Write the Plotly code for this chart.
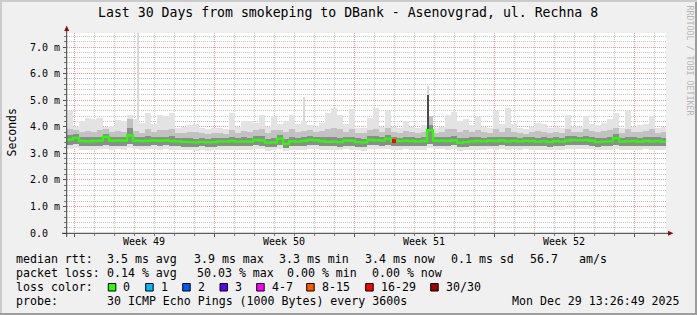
import plotly.graph_objects as go

# ---------------- data ----------------
title_text = "Last 30 Days from smokeping to DBank - Asenovgrad, ul. Rechna 8"
y_tick_values = [0, 1, 2, 3, 4, 5, 6, 7]
y_tick_labels = ["0.0", "1.0 m", "2.0 m", "3.0 m", "4.0 m", "5.0 m", "6.0 m", "7.0 m"]
week_labels = ["Week 49", "Week 50", "Week 51", "Week 52"]

bin_days = 0.3  # each value covers 7.2 h

median_ms = [
    3.52, 3.58, 3.46, 3.45, 3.46, 3.47, 3.62, 3.47, 3.48, 3.47,
    3.67, 3.47, 3.46, 3.47, 3.48, 3.47, 3.48, 3.46, 3.45, 3.43,
    3.42, 3.41, 3.43, 3.41, 3.42,
    3.45, 3.45, 3.46, 3.44, 3.45, 3.44, 3.50, 3.48, 3.40, 3.41,
    3.55, 3.36, 3.45, 3.44, 3.46, 3.50, 3.49, 3.46, 3.43, 3.44,
    3.42, 3.48, 3.47, 3.42, 3.41,
    3.50, 3.49, 3.48, 3.55, 3.46, 3.46, 3.47, 3.46, 3.45, 3.46,
    3.87, 3.47, 3.47, 3.46, 3.48, 3.40, 3.42, 3.45, 3.46, 3.45,
    3.47, 3.46, 3.48, 3.45, 3.47,
    3.45, 3.47, 3.46, 3.44, 3.45, 3.42, 3.46, 3.44, 3.48, 3.50,
    3.49, 3.50, 3.47, 3.42, 3.44, 3.45, 3.57, 3.44, 3.45, 3.46,
    3.44, 3.47, 3.45, 3.46, 3.44,
]

smoke_max = [
    4.58, 4.00, 4.20, 4.33, 4.28, 4.33, 4.00, 4.02, 4.25, 4.20,
    4.45, 4.30, 4.15, 4.50, 4.12, 4.45, 4.40, 4.50, 3.95, 3.98,
    4.08, 4.12, 3.95, 3.92, 3.95,
    3.95, 3.90, 4.50, 4.00, 4.20, 4.20, 4.15, 4.45, 4.00, 4.40,
    4.10, 4.20, 4.45, 4.10, 4.20, 4.05, 4.00, 4.15, 4.50, 4.70,
    4.45, 4.10, 4.65, 3.95, 3.95,
    4.33, 4.70, 4.00, 4.58, 4.00, 3.95, 4.20, 4.00, 3.95, 4.05,
    4.40, 3.95, 4.00, 4.45, 4.55, 4.20, 4.30, 4.05, 4.35, 4.00,
    3.95, 4.60, 4.10, 4.70, 4.10,
    3.95, 3.90, 4.00, 4.15, 4.10, 3.95, 4.00, 3.95, 4.45, 4.00,
    4.00, 4.40, 4.10, 4.05, 4.15, 4.30, 4.50, 3.95, 4.60, 4.00,
    4.05, 4.10, 4.40, 3.95, 4.00,
]

smoke_up = [
    3.90, 3.88, 3.80, 3.85, 3.82, 3.86, 3.92, 3.80, 3.84, 3.82,
    4.30, 3.84, 3.78, 3.90, 3.80, 3.88, 3.86, 3.90, 3.75, 3.78,
    3.80, 3.82, 3.76, 3.74, 3.76,
    3.76, 3.74, 3.88, 3.78, 3.84, 3.82, 3.86, 3.90, 3.76, 3.86,
    3.88, 3.80, 3.90, 3.82, 3.84, 3.86, 3.80, 3.84, 3.90, 3.95,
    3.90, 3.82, 3.92, 3.76, 3.75,
    3.88, 3.92, 3.80, 3.95, 3.82, 3.76, 3.84, 3.80, 3.76, 3.80,
    4.40, 3.78, 3.80, 3.90, 3.92, 3.82, 3.86, 3.80, 3.88, 3.80,
    3.78, 3.92, 3.82, 3.95, 3.82,
    3.76, 3.74, 3.80, 3.84, 3.82, 3.76, 3.80, 3.78, 3.90, 3.82,
    3.82, 3.90, 3.84, 3.80, 3.84, 3.86, 3.95, 3.78, 3.92, 3.80,
    3.80, 3.84, 3.90, 3.78, 3.80,
]

smoke_hi = [
    3.68, 3.72, 3.60, 3.62, 3.60, 3.62, 3.74, 3.60, 3.62, 3.60,
    3.95, 3.62, 3.60, 3.64, 3.60, 3.62, 3.62, 3.64, 3.58, 3.56,
    3.56, 3.55, 3.57, 3.55, 3.56,
    3.58, 3.57, 3.62, 3.58, 3.60, 3.58, 3.64, 3.64, 3.55, 3.58,
    3.68, 3.55, 3.62, 3.58, 3.60, 3.64, 3.62, 3.60, 3.60, 3.62,
    3.58, 3.62, 3.62, 3.56, 3.55,
    3.64, 3.64, 3.62, 3.68, 3.60, 3.58, 3.62, 3.60, 3.58, 3.60,
    4.05, 3.60, 3.60, 3.62, 3.64, 3.56, 3.58, 3.60, 3.62, 3.58,
    3.60, 3.62, 3.62, 3.62, 3.60,
    3.58, 3.60, 3.60, 3.58, 3.60, 3.56, 3.60, 3.58, 3.64, 3.64,
    3.62, 3.66, 3.62, 3.56, 3.58, 3.60, 3.72, 3.58, 3.62, 3.60,
    3.58, 3.62, 3.62, 3.60, 3.58,
]

smoke_lo = [
    3.32, 3.34, 3.28, 3.27, 3.28, 3.29, 3.33, 3.28, 3.29, 3.28,
    3.36, 3.29, 3.28, 3.29, 3.30, 3.28, 3.30, 3.28, 3.27, 3.25,
    3.25, 3.24, 3.26, 3.24, 3.25,
    3.27, 3.27, 3.28, 3.26, 3.27, 3.26, 3.30, 3.29, 3.23, 3.24,
    3.32, 3.20, 3.27, 3.26, 3.28, 3.30, 3.30, 3.28, 3.26, 3.27,
    3.25, 3.29, 3.28, 3.25, 3.24,
    3.30, 3.30, 3.29, 3.33, 3.28, 3.28, 3.29, 3.28, 3.27, 3.28,
    3.34, 3.29, 3.29, 3.28, 3.30, 3.23, 3.25, 3.27, 3.28, 3.27,
    3.29, 3.28, 3.30, 3.27, 3.29,
    3.27, 3.29, 3.28, 3.26, 3.27, 3.25, 3.28, 3.26, 3.30, 3.31,
    3.30, 3.31, 3.29, 3.25, 3.26, 3.27, 3.33, 3.26, 3.27, 3.28,
    3.26, 3.29, 3.27, 3.28, 3.26,
]

smoke_min = [
    3.18, 3.20, 3.14, 3.13, 3.14, 3.15, 3.18, 3.14, 3.15, 3.14,
    3.20, 3.15, 3.14, 3.15, 3.16, 3.14, 3.16, 3.14, 3.13, 3.12,
    3.11, 3.10, 3.12, 3.10, 3.11,
    3.13, 3.13, 3.14, 3.12, 3.13, 3.12, 3.16, 3.15, 3.10, 3.11,
    3.17, 3.08, 3.13, 3.12, 3.14, 3.16, 3.16, 3.14, 3.12, 3.13,
    3.11, 3.15, 3.14, 3.11, 3.10,
    3.16, 3.16, 3.15, 3.18, 3.14, 3.14, 3.15, 3.14, 3.13, 3.14,
    3.20, 3.15, 3.15, 3.14, 3.16, 3.10, 3.12, 3.13, 3.14, 3.13,
    3.15, 3.14, 3.16, 3.13, 3.15,
    3.13, 3.15, 3.14, 3.12, 3.13, 3.11, 3.14, 3.12, 3.16, 3.17,
    3.16, 3.17, 3.15, 3.11, 3.12, 3.13, 3.18, 3.12, 3.13, 3.14,
    3.12, 3.15, 3.13, 3.14, 3.12,
]

loss_count = [0] * 54 + [16] + [0] * 45

# isolated outlier pings (day offset, low, high, shade)
outlier_day = [3.53, 11.85, 18.03, 18.03]
outlier_lo = [4.30, 4.20, 4.40, 3.90]
outlier_hi = [9.00, 5.13, 5.55, 5.20]
outlier_shade = ["light", "light", "light", "dark"]

legend_rtt = [("median rtt:", 16), ("3.5 ms avg", 107.3), ("3.9 ms max", 193.7),
              ("3.3 ms min", 279.3), ("3.4 ms now", 365.0), ("0.1 ms sd", 451.0),
              ("56.7", 530.0), ("am/s", 579.3)]
legend_loss = [("packet loss:", 16), ("0.14 % avg", 107.3), ("50.03 % max", 196.7),
               ("0.00 % min", 286.7), ("0.00 % now", 372.3)]
loss_labels = ["0", "1", "2", "3", "4-7", "8-15", "16-29", "30/30"]
loss_thresholds = [0, 1, 2, 3, 4, 8, 16, 30]
probe_text = "30 ICMP Echo Pings (1000 Bytes) every 3600s"
date_text = "Mon Dec 29 13:26:49 2025"

# ---------------- style ----------------
W, H = 697, 315
ML, MR, MT, MB = 67, 31, 33, 82
PW, PH = W - ML - MR, H - MT - MB
X_RANGE = [0, 29.95]
Y_RANGE = [0, 7.527]
MONO = "DejaVu Sans Mono"
loss_colors = ["#26ff00", "#00b8ff", "#0059ff", "#5e00ff", "#ff00ff", "#ff5500", "#ff0000", "#a10000"]
box_left = [108.3, 145.7, 182.7, 220.0, 256.7, 306.7, 365.7, 430.7]


def px(xp):
    return (xp - ML) / PW


def py(yp):
    return (H - MB - yp) / PH


fig = go.Figure()

xs = [(i + 0.5) * bin_days for i in range(len(median_ms))]


def band(lo, hi, color, x=None, width=bin_days):
    fig.add_trace(go.Bar(
        x=x if x is not None else xs,
        y=[h - l for l, h in zip(lo, hi)], base=lo, width=width,
        marker=dict(color=color, line=dict(width=0)),
        hoverinfo="skip", showlegend=False))


band(smoke_min, smoke_max, "#e3e3e3")
band(smoke_lo, smoke_up, "#c2c2c2")
band(smoke_lo, smoke_hi, "#8c8c8c")

shade_color = {"light": "#d9d9d9", "dark": "#4a4a4a"}
for shade in ["light", "dark"]:
    idx = [k for k, s in enumerate(outlier_shade) if s == shade]
    band([outlier_lo[k] for k in idx], [outlier_hi[k] for k in idx], shade_color[shade],
         x=[outlier_day[k] for k in idx], width=0.11)

# median line (step)
x_edges = [i * bin_days for i in range(len(median_ms) + 1)]
fig.add_trace(go.Scatter(x=x_edges, y=median_ms + [median_ms[-1]], mode="lines",
                         line=dict(color=loss_colors[0], width=2.4, shape="hv"),
                         hoverinfo="skip", showlegend=False))


def loss_col(n):
    c = loss_colors[0]
    for t, col in zip(loss_thresholds, loss_colors):
        if n >= t:
            c = col
    return c


lx = [xs[i] for i, n in enumerate(loss_count) if n > 0]
ly = [median_ms[i] for i, n in enumerate(loss_count) if n > 0]
lc = [loss_col(n) for n in loss_count if n > 0]
fig.add_trace(go.Scatter(x=lx, y=ly, mode="markers",
                         marker=dict(symbol="square", size=4, color=lc, line=dict(width=0)),
                         hoverinfo="skip", showlegend=False))

major_x = [0.365 + 7 * k for k in range(5)]
minor_x = [0.365 + k for k in range(30)]
minor_y = [round(0.2 * k, 2) for k in range(38)]

GRID_MINOR = "#c6c6c6"
GRID_MAJOR = "#e79a9a"

fig.update_layout(
    width=W, height=H,
    margin=dict(l=ML, r=MR, t=MT, b=MB, pad=0),
    paper_bgcolor="#f0f0f0", plot_bgcolor="#ffffff",
    barmode="overlay", bargap=0, showlegend=False,
    xaxis=dict(range=X_RANGE, tickmode="array", tickvals=major_x, showticklabels=False,
               showgrid=True, gridcolor=GRID_MAJOR, griddash="1px,1px", gridwidth=1,
               ticks="outside", ticklen=3, tickcolor="#555555", tickwidth=1,
               zeroline=False, showline=False, fixedrange=True,
               minor=dict(tickmode="array", tickvals=minor_x, showgrid=True,
                          gridcolor=GRID_MINOR, griddash="1px,1px", gridwidth=1,
                          ticks="outside", ticklen=2, tickcolor="#777777")),
    yaxis=dict(range=Y_RANGE, tickmode="array", tickvals=y_tick_values, showticklabels=False,
               showgrid=True, gridcolor=GRID_MAJOR, griddash="1px,1px", gridwidth=1,
               ticks="outside", ticklen=3, tickcolor="#555555", tickwidth=1,
               zeroline=False, showline=False, fixedrange=True,
               minor=dict(tickmode="array", tickvals=minor_y, showgrid=True,
                          gridcolor=GRID_MINOR, griddash="1px,1px", gridwidth=1,
                          ticks="outside", ticklen=2, tickcolor="#777777")),
)

shapes = []
# axes
shapes.append(dict(type="line", xref="paper", yref="paper", x0=px(66.7), x1=px(66.7),
                   y0=py(237), y1=py(30), line=dict(color="#3a3a3a", width=1)))
shapes.append(dict(type="line", xref="paper", yref="paper", x0=px(62), x1=px(669),
                   y0=py(233.3), y1=py(233.3), line=dict(color="#3a3a3a", width=1)))
# arrows
shapes.append(dict(type="path", xref="paper", yref="paper",
                   path=f"M {px(64.2)} {py(31)} L {px(69.2)} {py(31)} L {px(66.7)} {py(25.5)} Z",
                   fillcolor="#8f1010", line=dict(width=0)))
shapes.append(dict(type="path", xref="paper", yref="paper",
                   path=f"M {px(668)} {py(230.8)} L {px(668)} {py(235.8)} L {px(673.5)} {py(233.3)} Z",
                   fillcolor="#8f1010", line=dict(width=0)))
# frame shading
shapes.append(dict(type="rect", xref="paper", yref="paper", x0=px(0), x1=px(697),
                   y0=py(313), y1=py(315), fillcolor="#9c9c9c", line=dict(width=0)))
shapes.append(dict(type="rect", xref="paper", yref="paper", x0=px(695), x1=px(697),
                   y0=py(315), y1=py(0), fillcolor="#9c9c9c", line=dict(width=0)))
shapes.append(dict(type="rect", xref="paper", yref="paper", x0=px(0), x1=px(697),
                   y0=py(0), y1=py(2), fillcolor="#cbcbcb", line=dict(width=0)))
shapes.append(dict(type="rect", xref="paper", yref="paper", x0=px(0), x1=px(2),
                   y0=py(313), y1=py(0), fillcolor="#cbcbcb", line=dict(width=0)))
# loss colour boxes
for bl, col in zip(box_left, loss_colors):
    shapes.append(dict(type="rect", xref="paper", yref="paper", x0=px(bl), x1=px(bl + 7.5),
                       y0=py(291), y1=py(283.5), fillcolor=col,
                       line=dict(color="#000000", width=1)))
fig.update_layout(shapes=shapes)


def text(xp, yp, s, size, xanchor="left", color="#000000", angle=0):
    fig.add_annotation(x=px(xp), y=py(yp), xref="paper", yref="paper", text=s,
                       showarrow=False, xanchor=xanchor, yanchor="middle",
                       font=dict(family=MONO, size=size, color=color),
                       textangle=angle, borderpad=0, borderwidth=0)


text(347.7, 13, title_text, 13.2, xanchor="center")
text(11.5, 133, "Seconds", 11.5, xanchor="center", angle=-90)
text(689.5, 60, "RRDTOOL / TOBI OETIKER", 8.3, xanchor="center", color="#b5b5b5", angle=90)

for v, lab in zip(y_tick_values, y_tick_labels):
    text(30.3, H - MB - (v - Y_RANGE[0]) / (Y_RANGE[1] - Y_RANGE[0]) * PH, lab, 10)

for k, lab in enumerate(week_labels):
    text(ML + (3.865 + 7 * k) / (X_RANGE[1] - X_RANGE[0]) * PW, 241.7, lab, 10, xanchor="center")

LEG = 11.6
for s, xpos in legend_rtt:
    text(xpos, 259.3, s, LEG)
for s, xpos in legend_loss:
    text(xpos, 273.3, s, LEG)
text(16, 287.3, "loss color:", LEG)
for bl, lab in zip(box_left, loss_labels):
    text(bl + 15, 287.3, lab, LEG)
text(16, 301, "probe:", LEG)
text(107.3, 301, probe_text, LEG)
text(680.5, 301, date_text, LEG, xanchor="right")

fig.write_html("out.html")
